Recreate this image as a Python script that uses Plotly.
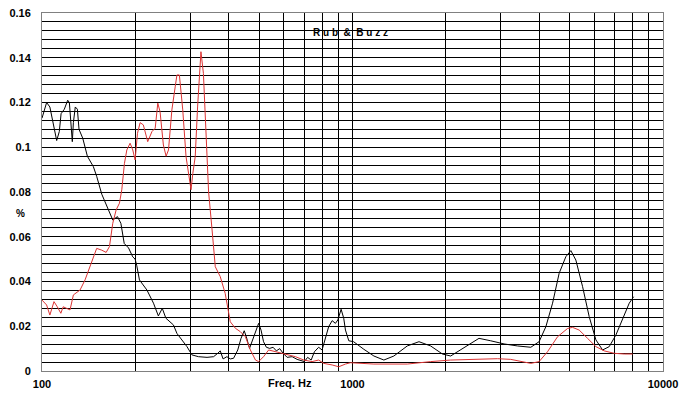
import plotly.graph_objects as go

# Black curve (Hz, %)
black_freq = [100, 103.5, 106, 109, 111.5, 113.7, 115.2, 118, 121, 122.5, 123.8, 125.2, 126.2, 128, 130,
              131.6, 135.3, 140, 146.4, 150, 155.8, 161.7, 169, 175, 179.5, 184, 190, 196, 199.5, 202,
              206, 217.7, 228.6, 237, 244, 250.6, 259, 265, 272, 282, 293, 304, 319, 340, 357, 368, 375,
              383, 394, 404, 414, 427, 437.5, 448, 455, 466, 478, 490, 498.5, 507.5, 517, 528, 541, 555,
              568.5, 583, 598, 616, 639, 663, 680, 700, 717, 736, 754, 778, 798, 818, 838, 860, 881, 897,
              919, 937, 949, 973, 1008, 1088, 1172, 1262, 1359, 1501, 1637, 1785, 1948, 2071, 2286, 2555,
              2787, 3076, 3399, 3660, 3752, 3990, 4195, 4409, 4630, 4866, 5049, 5240, 5508, 5785, 6080,
              6390, 6711, 7053, 7413, 7785, 8044]
black_val = [0.113, 0.120, 0.118, 0.109, 0.103, 0.107, 0.115, 0.117, 0.121, 0.120, 0.112, 0.1025, 0.111,
             0.118, 0.117, 0.108, 0.104, 0.096, 0.0913, 0.087, 0.079, 0.0735, 0.0675, 0.069, 0.066, 0.057,
             0.055, 0.051, 0.050, 0.047, 0.0407, 0.0362, 0.0303, 0.0246, 0.028, 0.0236, 0.022, 0.0206,
             0.0168, 0.0139, 0.0109, 0.0072, 0.0064, 0.0061, 0.0064, 0.0079, 0.009, 0.0054, 0.0064,
             0.0054, 0.0057, 0.0094, 0.0146, 0.018, 0.0153, 0.0101, 0.0146, 0.0183, 0.0213, 0.0183,
             0.0131, 0.0106, 0.0101, 0.0106, 0.009, 0.010, 0.0079, 0.0061, 0.0064, 0.0052, 0.0046,
             0.0042, 0.0061, 0.0049, 0.0086, 0.0106, 0.0094, 0.0146, 0.0198, 0.0225, 0.0213, 0.0228,
             0.0276, 0.0236, 0.0183, 0.0135, 0.0131, 0.0097, 0.0067, 0.0049, 0.0067, 0.0112, 0.0131,
             0.0112, 0.0076, 0.0067, 0.0106, 0.0146, 0.0135, 0.0121, 0.0112, 0.0106, 0.0106, 0.0131,
             0.0198, 0.0303, 0.0437, 0.0511, 0.0538, 0.0496, 0.0377, 0.0243, 0.0139, 0.0094, 0.0109,
             0.0161, 0.0236, 0.0303, 0.0332]

# Red curve (Hz, %)
red_freq = [100, 103.5, 106, 109.3, 112, 115, 117, 120, 123.1, 126.2, 132.6, 137.6, 142.8, 150, 155.8,
            160.9, 164.9, 169, 173.3, 177.6, 180.7, 184.3, 187.6, 192.2, 196, 199.5, 203, 207, 212, 219,
            226, 231.5, 236, 240, 246, 251, 255.5, 262, 268.5, 272, 277, 284, 291, 299, 302, 306, 311.5,
            317, 325, 331, 338, 344, 353, 361.5, 375, 389, 404, 419.5, 435, 452, 469, 487, 498.5, 517,
            537, 564.5, 586, 616, 655, 697, 741, 778, 808, 860, 903, 949, 985, 1172, 1501, 1785, 2071,
            2462, 2930, 3233, 3484, 3752, 3990, 4246, 4574, 4927, 5112, 5370, 5715, 6080, 6465, 6966,
            7504, 7987]
red_val = [0.0317, 0.0295, 0.025, 0.031, 0.0287, 0.0258, 0.0287, 0.028, 0.0273, 0.034, 0.0362, 0.0407,
           0.0466, 0.0548, 0.054, 0.053, 0.0556, 0.066, 0.072, 0.075, 0.081, 0.0928, 0.0988, 0.1018,
           0.0988, 0.0943, 0.1062, 0.111, 0.110, 0.1025, 0.107, 0.1085, 0.1197, 0.1159, 0.101, 0.096,
           0.0988, 0.1167, 0.127, 0.1323, 0.1323, 0.1167, 0.0958, 0.0839, 0.081, 0.0883, 0.0958, 0.118,
           0.1427, 0.133, 0.1033, 0.080, 0.063, 0.0466, 0.0422, 0.0347, 0.022, 0.0191, 0.0176, 0.0153,
           0.0094, 0.0049, 0.0042, 0.0064, 0.0094, 0.0086, 0.0079, 0.0072, 0.0064, 0.0049, 0.0042,
           0.0049, 0.0034, 0.0027, 0.0019, 0.0031, 0.0037, 0.0031, 0.0031, 0.0042, 0.0049, 0.0052,
           0.0055, 0.0052, 0.0042, 0.0034, 0.0042, 0.0086, 0.0153, 0.019, 0.0195, 0.0183, 0.0146,
           0.0109, 0.009, 0.0079, 0.0076, 0.0076]

x_ticks = [100, 200, 300, 400, 500, 600, 700, 800, 900, 1000, 2000, 3000, 4000, 5000, 6000, 7000,
           8000, 9000, 10000]
x_tick_labels = ["100", "", "", "", "", "", "", "", "", "1000", "", "", "", "", "", "", "", "", "10000"]

y_ticks = [i * 0.004 for i in range(41)]
y_label_map = {0: "0", 5: "0.02", 10: "0.04", 15: "0.06", 20: "0.08", 25: "0.1", 30: "0.12",
               35: "0.14", 40: "0.16"}
y_tick_labels = [y_label_map.get(i, "") for i in range(41)]

fig = go.Figure()
fig.add_trace(go.Scatter(x=black_freq, y=black_val, mode="lines",
                         line=dict(color="#000000", width=1), showlegend=False))
fig.add_trace(go.Scatter(x=red_freq, y=red_val, mode="lines",
                         line=dict(color="#dc3434", width=1), showlegend=False))

font_family = "Liberation Sans, Arial, sans-serif"
fig.update_layout(
    width=687, height=398,
    margin=dict(l=42, r=24, t=13, b=27, autoexpand=False),
    paper_bgcolor="white", plot_bgcolor="white",
    font=dict(family=font_family, color="black"),
    xaxis=dict(type="log", range=[2, 4], tickvals=x_ticks, ticktext=x_tick_labels,
               showgrid=True, gridcolor="#000000", gridwidth=1, zeroline=False,
               showline=True, linecolor="#808080", mirror=True, ticks="", automargin=False,
               ticklabelstandoff=3,
               tickfont=dict(size=11, family=font_family, weight="bold")),
    yaxis=dict(range=[0, 0.16], tickvals=y_ticks, ticktext=y_tick_labels,
               showgrid=True, gridcolor="#000000", gridwidth=1, zeroline=False,
               showline=True, linecolor="#808080", mirror=True, ticks="", automargin=False,
               ticklabelstandoff=8,
               tickfont=dict(size=11, family=font_family, weight="bold")),
    annotations=[
        dict(text="<b>R u b  &amp;  B u z z</b>", x=0.496, y=0.966, xref="paper", yref="paper",
             showarrow=False, font=dict(size=10, family=font_family)),
        dict(text="<b>Freq. Hz</b>", x=0.40, y=-0.034, xref="paper", yref="paper",
             xanchor="center", yanchor="middle", showarrow=False, font=dict(size=11, family=font_family)),
        dict(text="<b>%</b>", x=-0.045, y=0.44, xref="paper", yref="paper",
             showarrow=False, font=dict(size=10, family=font_family)),
    ],
)

fig.write_html("out.html", post_script="document.body.style.margin='0';",
               config={"displayModeBar": False})
